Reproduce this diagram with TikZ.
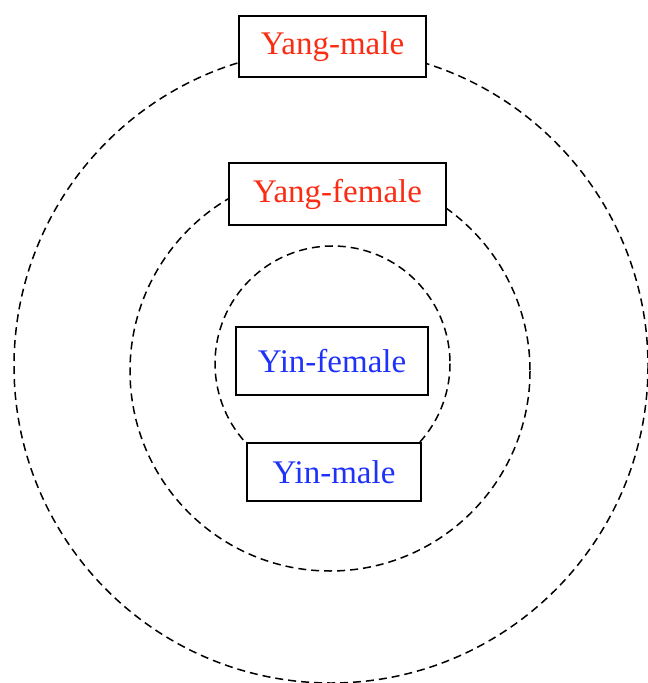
\documentclass[tikz,border=0pt]{standalone}
\usepackage{fontspec}
\setmainfont{Liberation Serif}
\definecolor{yangred}{RGB}{250,45,20}
\definecolor{yinblue}{RGB}{30,50,250}
\tikzset{
	ring/.style={line width=0.75pt,dash pattern=on 4pt off 2.5pt},
	label box/.style={draw,line width=0.9pt,fill=white,inner sep=0pt,font=\fontsize{16.5}{18}\selectfont}
}
\begin{document}
	\begin{tikzpicture}[x=0.5pt,y=-0.5pt]
		\useasboundingbox (0,0) rectangle (647,683);
		\coordinate (O1) at (331,366);
		\coordinate (O2) at (330,371);
		\coordinate (O3) at (332.5,363.5);
		\draw[ring] (O1) circle (317);
		\draw[ring] (O2) circle (200);
		\draw[ring] (O3) circle (117.5);
		\node[label box,minimum width=93.5pt,minimum height=30.5pt,text=yangred] (yangmale) at (332.5,46.5) {Yang-male};
		\node[label box,minimum width=108.5pt,minimum height=31pt,text=yangred] (yangfemale) at (337.5,194) {Yang-female};
		\node[label box,minimum width=96pt,minimum height=34pt,text=yinblue] (yinfemale) at (332,361) {Yin-female};
		\node[label box,minimum width=87pt,minimum height=29pt,text=yinblue] (yinmale) at (334,472) {Yin-male\hspace{6pt}};
	\end{tikzpicture}
\end{document}
